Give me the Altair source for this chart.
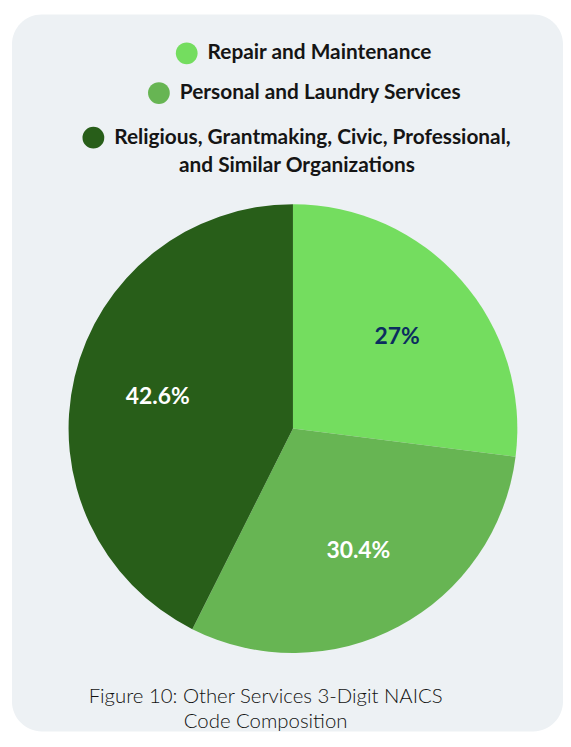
import altair as alt
import pandas as pd

categories = [
    "Repair and Maintenance",
    "Personal and Laundry Services",
    "Religious, Grantmaking, Civic, Professional, and Similar Organizations",
]
shares = [27.0, 30.4, 42.6]
labels = ["27%", "30.4%", "42.6%"]
slice_order = [1, 2, 3]
colors = ["#74dd5f", "#67b553", "#285e19"]

df = pd.DataFrame({"category": categories, "share": shares, "label": labels, "order": slice_order})

CX, CY = 283, 417
FONT = "Lato"
TXT = "#151515"

base = alt.Chart(df)

pie = base.mark_arc(outerRadius=226).encode(
    theta=alt.Theta("share:Q", stack=True),
    color=alt.Color("category:N", scale=alt.Scale(domain=categories, range=colors), legend=None),
    order=alt.Order("order:Q"),
    x=alt.value(CX),
    y=alt.value(CY),
)

text = base.mark_text(radius=140, font=FONT, fontSize=23, fontWeight="bold").encode(
    theta=alt.Theta("share:Q", stack=True),
    order=alt.Order("order:Q"),
    detail="category:N",
    text="label:N",
    color=alt.condition(alt.datum.category == categories[0], alt.value("#0b2d5f"), alt.value("white")),
    x=alt.value(CX),
    y=alt.value(CY),
)


def legend_layer(i, lx, ly, **extra):
    opts = dict(
        orient="none", legendX=lx, legendY=ly, symbolType="circle", symbolSize=480,
        symbolStrokeWidth=0, labelFont=FONT, labelFontSize=21, labelFontWeight="bold",
        labelColor=TXT, labelOffset=10, labelLimit=600, padding=0,
    )
    opts.update(extra)
    if "title" not in opts:
        opts["title"] = None
    return base.transform_filter(alt.datum.category == categories[i]).mark_arc(radius=0).encode(
        color=alt.Color(
            "category:N",
            scale=alt.Scale(domain=[categories[i]], range=[colors[i]]),
            legend=alt.Legend(**opts),
        )
    )


leg1 = legend_layer(0, 165, 28)
leg2 = legend_layer(1, 137, 68)
leg3 = legend_layer(
    2, 71, 113,
    labelExpr="split(datum.label, ' and Similar')[0]",
    title="and Similar Organizations", titleOrient="bottom", titleAnchor="middle",
    titleFont=FONT, titleFontSize=21, titleFontWeight="bold", titleColor=TXT,
    titleLimit=600, titlePadding=7,
)

chart = alt.layer(pie, text, leg1, leg2, leg3).resolve_scale(color="independent").properties(
    width=555,
    height=722,
    autosize=alt.AutoSizeParams(type="none"),
    padding={"left": 4, "top": 4, "right": 0, "bottom": 0},
    view=alt.ViewBackground(fill="#edf1f4", cornerRadius=30, strokeWidth=0),
    title=alt.TitleParams(
        ["Figure 10: Other Services 3-Digit NAICS", "Code Composition"],
        orient="top", anchor="middle", frame="group", offset=0, baseline="alphabetic",
        dy=739, dx=-22, font=FONT, fontSize=20.5, fontWeight=300, color="#111111", lineHeight=25,
    ),
).configure(background="white").configure_view(
    fill="#edf1f4", cornerRadius=30, strokeWidth=0
)

chart.save("out.html", embed_options={"renderer": "svg", "actions": False})
